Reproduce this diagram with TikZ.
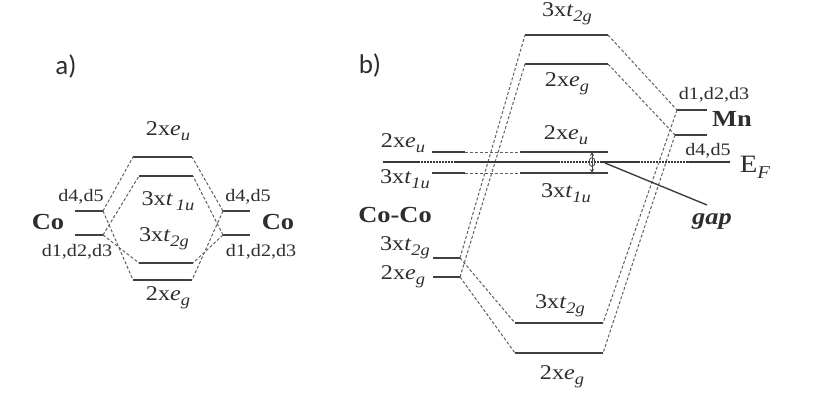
\documentclass[tikz,border=0pt]{standalone}
\usepackage{fontspec}
\setmainfont{Liberation Serif}[FakeStretch=1.15]
\newfontfamily\labfont{Carlito}
\usetikzlibrary{arrows.meta}
\newcommand\sbs[1]{\raisebox{-0.55ex}{\fontsize{16}{16}\selectfont\itshape #1}}
\newcommand\lv[3]{#1x\textit{#2}\sbs{#3}}
\begin{document}
\begin{tikzpicture}[x=1pt,y=-1pt,
 lvl/.style={line width=1.6pt, draw=black!75},
 dsh/.style={line width=1pt, draw=black!62, dash pattern=on 3pt off 2pt},
 txt/.style={text=black!82, inner sep=0pt, font=\fontsize{21}{23}\selectfont},
 dtxt/.style={text=black!82, inner sep=0pt, font=\fontsize{17.5}{19}\selectfont},
 btxt/.style={text=black!82, inner sep=0pt, font=\fontsize{23}{25}\selectfont\bfseries},
 ltxt/.style={text=black!82, inner sep=0pt, font=\labfont\fontsize{27}{29}\selectfont}]
\useasboundingbox[fill=white] (0,0) rectangle (816,412);

% ---------- panel a ----------
\node[ltxt] (la) at (66,66) {a)};
\coordinate (aEuL) at (133,157); \coordinate (aEuR) at (192,157);
\coordinate (aTuL) at (139,176); \coordinate (aTuR) at (193,176);
\coordinate (aTgL) at (139,263); \coordinate (aTgR) at (193,263);
\coordinate (aEgL) at (133,280); \coordinate (aEgR) at (192,280);
\coordinate (cl1L) at (75,211);  \coordinate (cl1R) at (103,211);
\coordinate (cl2L) at (75,235);  \coordinate (cl2R) at (103,235);
\coordinate (cr1L) at (223,211); \coordinate (cr1R) at (250,211);
\coordinate (cr2L) at (223,235); \coordinate (cr2R) at (250,235);
\foreach \p in {aEu,aTu,aTg,aEg,cl1,cl2,cr1,cr2} \draw[lvl] (\p L) -- (\p R);
\draw[dsh] (cl1R) -- (aEuL); \draw[dsh] (cl1R) -- (aEgL);
\draw[dsh] (cl2R) -- (aTuL); \draw[dsh] (cl2R) -- (aTgL);
\draw[dsh] (cr1L) -- (aEuR); \draw[dsh] (cr1L) -- (aEgR);
\draw[dsh] (cr2L) -- (aTuR); \draw[dsh] (cr2L) -- (aTgR);
\node[txt] (aEut) at (168,131) {\lv{2}{e}{u}};
\node[txt] (aTut) at (168,201) {\lv{3}{t}{\hspace{3pt}1u}};
\node[txt] (aTgt) at (164,239) {\lv{3}{t}{2g}};
\node[txt] (aEgt) at (168,298) {\lv{2}{e}{g}};
\node[btxt] (coL) at (48,222) {Co};
\node[btxt] (coR) at (278,222) {Co};
\node[dtxt] (dl45) at (81,197) {d4,d5};
\node[dtxt] (dl123) at (77,252) {d1,d2,d3};
\node[dtxt] (dr45) at (248,197) {d4,d5};
\node[dtxt] (dr123) at (261,252) {d1,d2,d3};

% ---------- panel b ----------
\node[ltxt] (lb) at (370,65) {b)};
\coordinate (tTgL) at (525,35);  \coordinate (tTgR) at (608,35);
\coordinate (tEgL) at (525,64);  \coordinate (tEgR) at (608,64);
\coordinate (mEuL) at (520,152); \coordinate (mEuR) at (608,152);
\coordinate (mTuL) at (520,173); \coordinate (mTuR) at (608,173);
\coordinate (bTgL) at (515,323); \coordinate (bTgR) at (603,323);
\coordinate (bEgL) at (515,353); \coordinate (bEgR) at (603,353);
\coordinate (cEuL) at (432,152); \coordinate (cEuR) at (465,152);
\coordinate (cTuL) at (432,173); \coordinate (cTuR) at (465,173);
\coordinate (cTgL) at (433,258); \coordinate (cTgR) at (460,258);
\coordinate (cEgL) at (433,277); \coordinate (cEgR) at (460,277);
\coordinate (m1L) at (677,110);  \coordinate (m1R) at (707,110);
\coordinate (m2L) at (675,135);  \coordinate (m2R) at (707,135);
\coordinate (efL) at (383,162);  \coordinate (efR) at (730,162);
\foreach \p in {tTg,tEg,mEu,mTu,bTg,bEg,cEu,cTu,cTg,cEg,m1,m2} \draw[lvl] (\p L) -- (\p R);
\draw[dsh] (cEuR) -- (mEuL); \draw[dsh] (cTuR) -- (mTuL);
\draw[dsh] (cTgR) -- (tTgL); \draw[dsh] (cEgR) -- (tEgL);
\draw[dsh] (cTgR) -- (bTgL); \draw[dsh] (cEgR) -- (bEgL);
\draw[dsh] (tTgR) -- (m1L); \draw[dsh] (tEgR) -- (m2L);
\draw[dsh] (m1L) -- (bTgR); \draw[dsh] (m2L) -- (bEgR);
% Fermi level
\draw[line width=2.6pt, draw=black!78] (efL) -- (efR);
\draw[line width=2.6pt, draw=white, dash pattern=on 1pt off 2pt] (420,162) -- (455,162);
\draw[line width=2.6pt, draw=white, dash pattern=on 1pt off 2pt] (560,162) -- (600,162);
\draw[line width=2.6pt, draw=white, dash pattern=on 1pt off 2pt] (640,162) -- (688,162);
% gap
\coordinate (gT) at (592,152); \coordinate (gB) at (592,173);
\draw[line width=0.9pt, draw=black!72, {Stealth[length=4pt,width=4pt]}-{Stealth[length=4pt,width=4pt]}] (gT) -- (gB);
\draw[line width=0.8pt, draw=black!72] (592,162) ellipse (3pt and 4.5pt);
\coordinate (gpS) at (605,163);
\node[text=black!82, inner sep=0pt, font=\fontsize{23}{25}\selectfont\bfseries\itshape] (gap) at (712,222) {gap};
\coordinate (gpE) at (707,205);
\draw[line width=1.4pt, draw=black!75] (gpS) -- (gpE);
% labels
\node[txt] (tTgt) at (567,14) {\lv{3}{t}{2g}};
\node[txt] (tEgt) at (567,84) {\lv{2}{e}{g}};
\node[txt] (mEut) at (566,135) {\lv{2}{e}{u}};
\node[txt] (mTut) at (566,193) {\lv{3}{t}{1u}};
\node[txt] (cEut) at (403,143) {\lv{2}{e}{u}};
\node[txt] (cTut) at (405,179) {\lv{3}{t}{1u}};
\node[btxt] (coco) at (395,215) {Co-Co};
\node[txt] (cTgt) at (405,248) {\lv{3}{t}{2g}};
\node[txt] (cEgt) at (403,277) {\lv{2}{e}{g}};
\node[txt] (bTgt) at (560,306) {\lv{3}{t}{2g}};
\node[txt] (bEgt) at (562,377) {\lv{2}{e}{g}};
\node[dtxt] (m123) at (714,95) {d1,d2,d3};
\node[btxt] (mn) at (732,119) {Mn};
\node[dtxt] (m45) at (708,151) {d4,d5};
\node[text=black!82, inner sep=0pt, font=\fontsize{25}{27}\selectfont] (ef) at (755,167) {E\raisebox{-6pt}{\fontsize{18}{18}\selectfont\itshape F}};
\end{tikzpicture}
\end{document}
